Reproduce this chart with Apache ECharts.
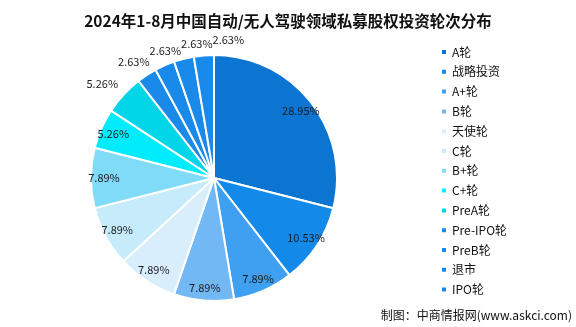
<!DOCTYPE html>
<html><head><meta charset="utf-8">
<script src="https://cdn.jsdelivr.net/npm/echarts@6/dist/echarts.min.js"></script>
<style>html,body{margin:0;padding:0;background:#fff}#c{width:576px;height:327px}</style>
</head><body><div id="c"></div>
<script>
const categories = ['A轮','战略投资','A+轮','B轮','天使轮','C轮','B+轮','C+轮','PreA轮','Pre-IPO轮','PreB轮','退市','IPO轮'];
const shares = [28.95,10.53,7.89,7.89,7.89,7.89,7.89,5.26,5.26,2.63,2.63,2.63,2.63];
const colors = ['#0c74d1','#1389ea','#3f9ff0','#72b8f4','#d8eefc','#c6ebfb','#80dbf8','#00ecfc','#00d6e8','#1a8aea','#1a8aea','#1a8aea','#1a8aea'];
const outsideLabel = [false,false,false,false,false,false,false,false,true,true,true,true,true];

const chart = echarts.init(document.getElementById('c'));
const font = '"Microsoft YaHei","Noto Sans CJK SC","Noto Sans",sans-serif';
const center = [214,178];
const labelStyle = {color:'#1a1a1a', fontSize:11, fontFamily:font, formatter: p => p.value.toFixed(2) + '%'};

// push outside labels away from the pie so their box sits beyond the edge (Excel "outside end")
function outsideLayout(p){
  const r = p.labelRect;
  const cx = r.x + r.width/2, cy = r.y + r.height/2;
  const vx = cx - center[0], vy = cy - center[1];
  const len = Math.sqrt(vx*vx + vy*vy) || 1;
  return {hideOverlap:false, moveOverlap:'shiftX', dx: vx/len * r.width*0.6, dy: vy/len * r.height*0.5};
}

chart.setOption({
  animation:false,
  title:{text:'2024年1-8月中国自动/无人驾驶领域私募股权投资轮次分布', left:'center', top:8,
    textStyle:{fontSize:15.5, fontWeight:'bold', color:'#111', fontFamily:font}},
  legend:{orient:'vertical', left:435, top:40, itemWidth:6, itemHeight:6, itemGap:5.8, icon:'rect',
    textStyle:{fontSize:12, color:'#111', fontFamily:font, lineHeight:14},
    data: categories.map((n,i)=>({name:n, itemStyle:{color:colors[i]}}))},
  graphic:[{type:'text', right:4, bottom:6, style:{text:'制图：中商情报网(www.askci.com)', fontSize:12, fill:'#111', fontFamily:'"Noto Sans CJK SC",sans-serif'}}],
  series:[
    {type:'pie', center:center, radius:[0,123], startAngle:90, clockwise:true,
      label:{show:false}, labelLine:{show:false},
      itemStyle:{borderColor:'#fff', borderWidth:2},
      data: categories.map((n,i)=>({name:n, value:shares[i], itemStyle:{color:colors[i]}}))},
    {type:'pie', center:center, radius:[0,214], startAngle:90, silent:true, avoidLabelOverlap:false,
      labelLine:{show:false}, itemStyle:{color:'transparent'}, labelLayout:{hideOverlap:false},
      label:Object.assign({position:'inside'}, labelStyle),
      data: categories.map((n,i)=>({name:n, value:shares[i], label:{show:!outsideLabel[i]}}))},
    {type:'pie', center:center, radius:[0,260], startAngle:90, silent:true, avoidLabelOverlap:false,
      labelLine:{show:false}, itemStyle:{color:'transparent'}, labelLayout:outsideLayout,
      label:Object.assign({position:'inside'}, labelStyle),
      data: categories.map((n,i)=>({name:n, value:shares[i], label:{show:outsideLabel[i]}}))}
  ]
});
</script></body></html>
